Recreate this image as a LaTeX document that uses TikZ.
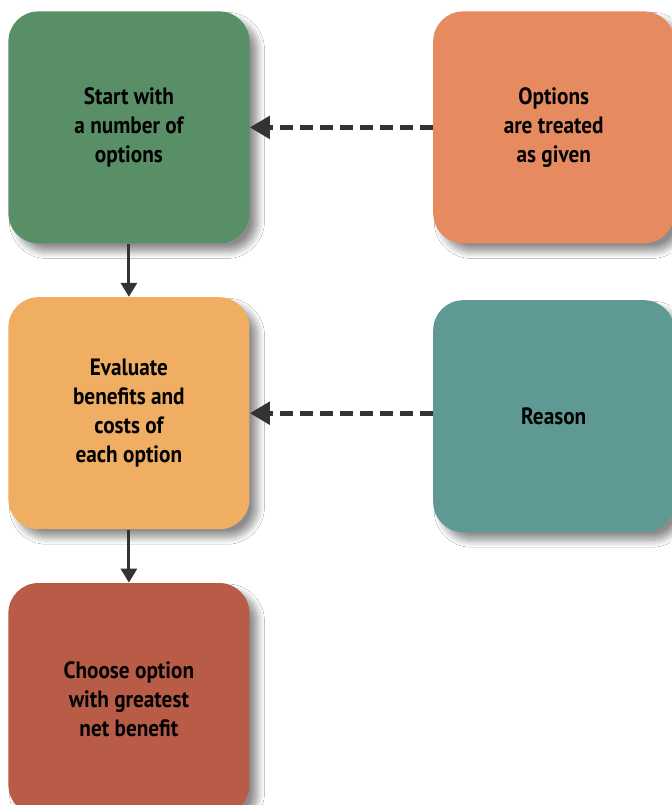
\documentclass[tikz,border=0pt]{standalone}
\usepackage{fontspec}
\setmainfont[FakeStretch=0.9]{PT Sans}
\usepackage{xcolor}
\usepackage{tikz}
\usetikzlibrary{arrows.meta,positioning,shadows.blur}

\definecolor{startgreen}{HTML}{588F66}
\definecolor{givenorange}{HTML}{E68B60}
\definecolor{evalorange}{HTML}{F0AE62}
\definecolor{reasonteal}{HTML}{5E9993}
\definecolor{choosered}{HTML}{B85C48}
\definecolor{linegray}{HTML}{333333}

\tikzset{
  stagebox/.style={rounded corners=15pt, minimum width=120.5pt, minimum height=116pt,
    align=center, inner sep=0pt,
    blur shadow={shadow xshift=4pt, shadow yshift=-4pt, shadow blur radius=3.5pt,
      shadow blur steps=10, shadow opacity=45}},
  flowarrow/.style={-{Triangle[length=7pt,width=8pt]}, line width=1.5pt, draw=linegray},
  hintarrow/.style={-{Triangle[length=10pt,width=11pt]}, line width=2.5pt, draw=linegray,
    dash pattern=on 6.5pt off 3.5pt}
}

\begin{document}
\begin{tikzpicture}[x=0.5pt, y=0.5pt, node distance=26.5pt and 91.5pt,
    every node/.style={font=\bfseries\fontsize{11.8}{14.5}\selectfont}]
\useasboundingbox (0,0) rectangle (671,-805);
\fill[white] (0,0) rectangle (671,-805);
\node[stagebox, fill=startgreen, anchor=north west] (start) at (8,-11) {Start with\\a number of\\options};
\node[stagebox, fill=givenorange, right=of start] (given) {Options\\are treated\\as given};
\node[stagebox, fill=evalorange, below=of start] (eval) {Evaluate\\benefits and\\costs of\\each option};
\node[stagebox, fill=reasonteal, right=of eval, yshift=-1.5pt] (reason) {Reason};
\node[stagebox, fill=choosered, below=of eval] (choose) {Choose option\\with greatest\\net benefit};
% main chain
\draw[flowarrow] (start) -- (eval);
\draw[flowarrow] (eval) -- (choose);
% side inputs
\draw[hintarrow] (given.west) -- (start.east);
\draw[hintarrow] (reason.west |- eval.east) -- (eval.east);
\end{tikzpicture}
\end{document}
